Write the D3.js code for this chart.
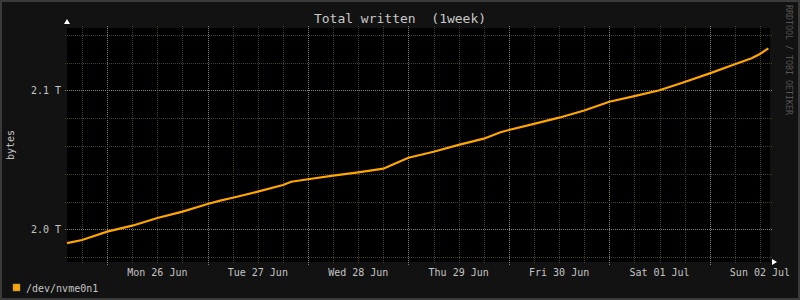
<!DOCTYPE html>
<html>
<head>
<meta charset="utf-8">
<script src="https://cdn.jsdelivr.net/npm/d3@7"></script>
<style>
  html, body { margin: 0; padding: 0; background: #121212; }
  svg { display: block; }
  text { font-family: 'DejaVu Sans Mono', monospace; }
</style>
</head>
<body>
<svg id="chart" width="800" height="300"></svg>
<script>
// sample times (UTC) and total bytes written, in T
const times = [
  '2023-06-25T14:24', '2023-06-25T18:00', '2023-06-26T00:00', '2023-06-26T06:00',
  '2023-06-26T12:00', '2023-06-26T18:00', '2023-06-27T00:00', '2023-06-27T03:00',
  '2023-06-27T06:00', '2023-06-27T12:00', '2023-06-27T18:00', '2023-06-27T20:00',
  '2023-06-28T00:00', '2023-06-28T06:00', '2023-06-28T12:00', '2023-06-28T18:00',
  '2023-06-28T20:00', '2023-06-29T00:00', '2023-06-29T06:00', '2023-06-29T12:00',
  '2023-06-29T18:00', '2023-06-29T22:00', '2023-06-30T00:00', '2023-06-30T06:00',
  '2023-06-30T12:00', '2023-06-30T18:00', '2023-07-01T00:00', '2023-07-01T06:00',
  '2023-07-01T12:00', '2023-07-01T18:00', '2023-07-02T00:00', '2023-07-02T06:00',
  '2023-07-02T10:00', '2023-07-02T12:00', '2023-07-02T14:00'
]
const written = [
  1.9901, 1.9923, 1.9983, 2.0026,
  2.0081, 2.0127, 2.0182, 2.0206,
  2.0227, 2.0271, 2.0319, 2.0342,
  2.0360, 2.0386, 2.0410, 2.0436,
  2.0463, 2.0515, 2.0558, 2.0607,
  2.0652, 2.0698, 2.0714, 2.0758,
  2.0803, 2.0855, 2.0918, 2.0958,
  2.1000, 2.1060, 2.1122, 2.1187,
  2.1230, 2.1261, 2.1302
]
const yMajor = [2.0, 2.1]
const yMinor = [1.98, 2.0, 2.02, 2.04, 2.06, 2.08, 2.1, 2.12, 2.14]
const legendLabels = ['/dev/nvme0n1']

const parse = d3.utcParse('%Y-%m-%dT%H:%M')
const data = times.map((t, i) => ({ t: parse(t), v: written[i] }))

const plot = { left: 67, right: 770, top: 28, bottom: 262 }
const start = parse('2023-06-25T14:24')
const end = parse('2023-07-02T14:24')

const x = d3.scaleUtc().domain([start, end]).range([plot.left, plot.right])
const y = d3.scaleLinear()
  .domain([2.0, 2.1])
  .range([229.3, 90.3])

const svg = d3.select('#chart')

// frame
svg.append('rect').attr('width', 800).attr('height', 300).attr('fill', '#3a3a3a')
svg.append('rect').attr('x', 2).attr('y', 2).attr('width', 796).attr('height', 296).attr('fill', '#121212')
svg.append('rect')
  .attr('x', plot.left).attr('y', plot.top)
  .attr('width', plot.right - plot.left).attr('height', plot.bottom - plot.top)
  .attr('fill', '#000')

const grid = svg.append('g').attr('shape-rendering', 'crispEdges')

// vertical grid: minor each 6 hours, major each midnight
const minorX = d3.utcHour.every(6).range(start, end)
grid.selectAll('.vminor')
  .data(minorX.filter(d => d.getUTCHours() !== 0))
  .enter()
  .append('line')
  .attr('x1', d => Math.round(x(d)) + 0.5)
  .attr('x2', d => Math.round(x(d)) + 0.5)
  .attr('y1', plot.top - 2)
  .attr('y2', plot.bottom + 2)
  .attr('stroke', '#44441e')
  .attr('stroke-dasharray', '1,1')
grid.selectAll('.vmajor')
  .data(d3.utcDay.range(start, end))
  .enter()
  .append('line')
  .attr('x1', d => Math.round(x(d)) + 0.5)
  .attr('x2', d => Math.round(x(d)) + 0.5)
  .attr('y1', plot.top - 2)
  .attr('y2', plot.bottom + 3)
  .attr('stroke', '#7a8a6c')
  .attr('stroke-dasharray', '1,1')

// horizontal grid
grid.selectAll('.hminor')
  .data(yMinor.filter(v => !yMajor.includes(v)))
  .enter()
  .append('line')
  .attr('x1', plot.left - 2)
  .attr('x2', plot.right + 2)
  .attr('y1', d => Math.round(y(d)) + 0.5)
  .attr('y2', d => Math.round(y(d)) + 0.5)
  .attr('stroke', '#44441e')
  .attr('stroke-dasharray', '1,1')
grid.selectAll('.hmajor')
  .data(yMajor)
  .enter()
  .append('line')
  .attr('x1', plot.left - 2)
  .attr('x2', plot.right + 2)
  .attr('y1', d => Math.round(y(d)) + 0.5)
  .attr('y2', d => Math.round(y(d)) + 0.5)
  .attr('stroke', '#7a8a6c')
  .attr('stroke-dasharray', '1,1')

// y labels
svg.selectAll('.ylabel')
  .data(yMajor)
  .enter()
  .append('text')
  .attr('x', 61)
  .attr('y', d => y(d) + 3.5)
  .attr('text-anchor', 'end')
  .attr('fill', '#c4c4c4')
  .style('font-size', '10px')
  .text(d => d3.format('.1f')(d) + ' T')

// x labels at noon
const fmt = d3.utcFormat('%a %d %b')
svg.selectAll('.xlabel')
  .data(d3.utcHour.every(12).range(start, end).filter(d => d.getUTCHours() === 12))
  .enter()
  .append('text')
  .attr('x', d => x(d))
  .attr('y', 276)
  .attr('text-anchor', 'middle')
  .attr('fill', '#c4c4c4')
  .style('font-size', '10px')
  .text(d => fmt(d))

// data line
const line = d3.line().x(d => x(d.t)).y(d => y(d.v))
svg.append('path')
  .datum(data)
  .attr('fill', 'none')
  .attr('stroke', '#ffa500')
  .attr('stroke-width', 2.2)
  .attr('d', line)

// axis arrows
svg.append('path')
  .attr('d', `M${plot.left - 3},${plot.top - 4} L${plot.left + 3},${plot.top - 4} L${plot.left},${plot.top - 9} Z`)
  .attr('fill', '#fff')
svg.append('path')
  .attr('d', `M${plot.right + 2},${plot.bottom - 3} L${plot.right + 2},${plot.bottom + 3} L${plot.right + 7},${plot.bottom} Z`)
  .attr('fill', '#fff')

// title
svg.append('text')
  .attr('x', 400)
  .attr('y', 23)
  .attr('text-anchor', 'middle')
  .attr('fill', '#c8c8c8')
  .style('font-size', '13px')
  .style('white-space', 'pre')
  .text('Total written  (1week)')

// vertical axis label
svg.append('text')
  .attr('transform', 'translate(14,145) rotate(-90)')
  .attr('text-anchor', 'middle')
  .attr('fill', '#c4c4c4')
  .style('font-size', '10px')
  .text('bytes')

// watermark
svg.append('text')
  .attr('transform', 'translate(786,5) rotate(90)')
  .attr('text-anchor', 'start')
  .attr('fill', '#555')
  .style('font-size', '8.3px')
  .text('RRDTOOL / TOBI OETIKER')

// legend
const legend = svg.selectAll('.legend')
  .data(legendLabels)
  .enter()
  .append('g')
  .attr('transform', (d, i) => `translate(13,${284 + i * 14})`)
legend.append('rect')
  .attr('width', 7).attr('height', 7)
  .attr('fill', '#ffa500')
  .attr('stroke', '#888')
  .attr('stroke-width', 0.5)
legend.append('text')
  .attr('x', 13)
  .attr('y', 7.5)
  .attr('fill', '#c4c4c4')
  .style('font-size', '10px')
  .text(d => d)
</script>
</body>
</html>
